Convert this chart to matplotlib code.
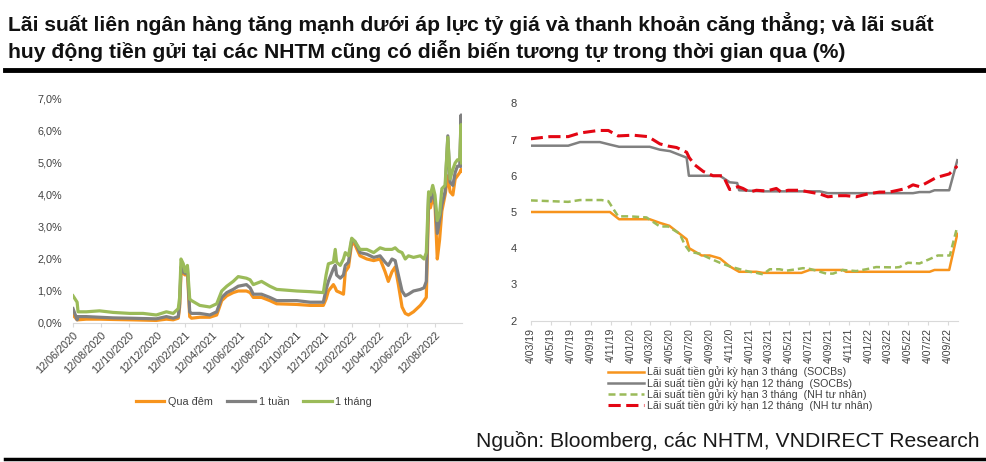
import matplotlib
matplotlib.use("Agg")
import matplotlib.pyplot as plt
import matplotlib.dates as mdates
import pandas as pd
import numpy as np

# ---------------- Left chart: interbank rates (%) ----------------
ib_dates = ["2020-06-12", "2020-06-21", "2020-06-23", "2020-07-11", "2020-08-09", "2020-09-08",
            "2020-10-14", "2020-11-12", "2020-12-11", "2021-01-02", "2021-01-17", "2021-01-28",
            "2021-01-31", "2021-02-03", "2021-02-08", "2021-02-12", "2021-02-17", "2021-02-22",
            "2021-02-26", "2021-03-16", "2021-04-07", "2021-04-22", "2021-05-03", "2021-05-14",
            "2021-05-28", "2021-06-08", "2021-06-26", "2021-07-04", "2021-07-11", "2021-07-29",
            "2021-08-16", "2021-08-31", "2021-10-14", "2021-11-12", "2021-12-11", "2021-12-17",
            "2021-12-22", "2022-01-02", "2022-01-06", "2022-01-09", "2022-01-17", "2022-01-24",
            "2022-01-28", "2022-02-04", "2022-02-11", "2022-02-18", "2022-03-01", "2022-03-16",
            "2022-03-31", "2022-04-14", "2022-04-25", "2022-05-02", "2022-05-10", "2022-05-17",
            "2022-05-24", "2022-06-01", "2022-06-08", "2022-06-15", "2022-06-26", "2022-07-11",
            "2022-07-19", "2022-07-24", "2022-07-29", "2022-08-02", "2022-08-07", "2022-08-12",
            "2022-08-17", "2022-08-22", "2022-08-27", "2022-09-03", "2022-09-09", "2022-09-14",
            "2022-09-20", "2022-09-25", "2022-09-30", "2022-10-05", "2022-10-08", "2022-10-09"]
overnight = [0.25, 0.10, 0.10, 0.12, 0.12, 0.11, 0.10, 0.09, 0.08, 0.12, 0.10, 0.15,
             0.50, 1.55, 1.55, 1.50, 1.60, 0.20, 0.15, 0.18, 0.18, 0.25, 0.70, 0.85,
             0.95, 1.00, 1.00, 0.95, 0.80, 0.80, 0.70, 0.60, 0.58, 0.55, 0.55, 0.75,
             1.00, 1.20, 1.10, 1.00, 0.95, 0.90, 1.60, 1.75, 2.50, 2.45, 2.10, 2.00,
             1.95, 2.00, 1.60, 1.30, 1.60, 1.75, 1.20, 0.50, 0.30, 0.25, 0.35, 0.55,
             0.70, 0.80, 3.70, 3.60, 3.90, 3.70, 2.00, 2.60, 3.50, 4.00, 4.60, 4.10,
             4.00, 4.50, 4.60, 4.70, 4.80, 4.75]
one_week = [0.45, 0.10, 0.20, 0.20, 0.18, 0.16, 0.15, 0.14, 0.13, 0.20, 0.15, 0.20,
            0.60, 1.75, 1.60, 1.55, 1.75, 0.35, 0.30, 0.30, 0.25, 0.35, 0.80, 0.95,
            1.05, 1.15, 1.20, 1.10, 0.90, 0.90, 0.80, 0.70, 0.70, 0.65, 0.65, 1.05,
            1.30, 1.70, 1.80, 1.50, 1.40, 1.50, 1.80, 1.90, 2.60, 2.55, 2.20, 2.15,
            2.05, 2.10, 1.90, 1.80, 2.00, 1.95, 1.50, 1.00, 0.85, 0.90, 1.00, 1.05,
            1.10, 1.30, 4.00, 3.80, 4.10, 3.80, 2.80, 3.20, 3.70, 4.10, 5.85, 4.40,
            4.30, 4.70, 4.90, 4.90, 6.50, 4.90]
one_month = [0.85, 0.65, 0.35, 0.35, 0.38, 0.33, 0.30, 0.30, 0.25, 0.35, 0.30, 0.45,
             0.80, 2.00, 1.85, 1.60, 1.80, 0.75, 0.70, 0.55, 0.50, 0.60, 1.00, 1.15,
             1.30, 1.45, 1.40, 1.35, 1.20, 1.30, 1.15, 1.05, 1.00, 0.98, 0.95, 1.50,
             1.85, 1.90, 2.30, 1.90, 1.80, 2.00, 2.20, 2.10, 2.65, 2.55, 2.30, 2.30,
             2.20, 2.35, 2.30, 2.30, 2.30, 2.35, 2.25, 2.20, 2.00, 2.10, 2.05, 2.10,
             2.00, 2.20, 4.10, 4.00, 4.30, 4.00, 3.20, 3.40, 4.20, 4.30, 5.80, 4.50,
             4.80, 5.00, 5.10, 5.10, 6.20, 5.00]
ib_ticks = ["2020-06-12", "2020-08-12", "2020-10-12", "2020-12-12", "2021-02-12", "2021-04-12",
            "2021-06-12", "2021-08-12", "2021-10-12", "2021-12-12", "2022-02-12", "2022-04-12",
            "2022-06-12", "2022-08-12"]
ib_names = ["Qua đêm", "1 tuần", "1 tháng"]

# ---------------- Right chart: deposit rates (%) ----------------
d_orange_dates = ["2019-03-04", "2019-11-02", "2019-11-30", "2020-03-03", "2020-04-03", "2020-05-02",
                  "2020-06-24", "2020-07-02", "2020-08-09", "2020-09-03", "2020-10-04", "2020-11-03",
                  "2020-12-02", "2021-01-24", "2021-02-13", "2021-06-11", "2021-07-06", "2021-10-16",
                  "2021-10-26", "2022-07-09", "2022-07-24", "2022-09-07", "2022-10-02"]
soc_3m = [5.0, 5.0, 4.8, 4.8, 4.7, 4.62, 4.25, 4.0, 3.8, 3.8, 3.72, 3.5,
          3.35, 3.35, 3.32, 3.32, 3.4, 3.4, 3.35, 3.35, 3.4, 3.4, 4.4]
d_grey_dates = ["2019-03-04", "2019-06-27", "2019-08-02", "2019-10-02", "2019-11-02", "2019-11-30",
                "2020-03-03", "2020-04-03", "2020-05-04", "2020-06-24", "2020-07-01", "2020-10-04",
                "2020-11-03", "2020-11-26", "2020-12-02", "2021-02-13", "2021-08-06", "2021-08-31",
                "2022-05-19", "2022-06-08", "2022-07-09", "2022-07-24", "2022-09-07", "2022-10-02"]
soc_12m = [6.83, 6.83, 6.93, 6.93, 6.86, 6.8, 6.8, 6.72, 6.68, 6.5, 6.0, 6.0,
           5.82, 5.8, 5.6, 5.57, 5.57, 5.52, 5.52, 5.55, 5.55, 5.6, 5.6, 6.43]
d_green_dates = ["2019-03-04", "2019-05-02", "2019-06-27", "2019-08-02", "2019-10-07", "2019-10-28",
                 "2019-11-27", "2020-01-02", "2020-02-22", "2020-04-03", "2020-04-28", "2020-06-03",
                 "2020-06-18", "2020-07-04", "2020-08-03", "2020-09-03", "2020-10-04", "2020-11-03",
                 "2020-12-04", "2021-01-03", "2021-01-24", "2021-02-13", "2021-03-06", "2021-04-05",
                 "2021-04-26", "2021-05-26", "2021-06-16", "2021-07-06", "2021-07-27", "2021-08-26",
                 "2021-09-16", "2021-10-16", "2021-11-26", "2021-12-27", "2022-01-26", "2022-03-28",
                 "2022-04-08", "2022-05-03", "2022-06-08", "2022-07-09", "2022-08-03", "2022-08-28",
                 "2022-09-09", "2022-09-29"]
priv_3m = [5.32, 5.3, 5.28, 5.33, 5.33, 5.3, 4.88, 4.88, 4.85, 4.6, 4.6, 4.4,
           4.1, 3.9, 3.85, 3.72, 3.6, 3.5, 3.42, 3.35, 3.32, 3.28, 3.42, 3.42,
           3.38, 3.42, 3.45, 3.43, 3.38, 3.3, 3.3, 3.4, 3.37, 3.42, 3.48, 3.47,
           3.48, 3.6, 3.58, 3.7, 3.8, 3.8, 3.8, 4.5]
d_red_dates = ["2019-03-04", "2019-05-02", "2019-06-27", "2019-08-02", "2019-09-27", "2019-10-28",
               "2019-11-27", "2020-01-12", "2020-02-27", "2020-04-03", "2020-04-28", "2020-05-24",
               "2020-06-24", "2020-07-02", "2020-07-19", "2020-08-14", "2020-09-13", "2020-10-14",
               "2020-11-03", "2020-11-29", "2020-12-14", "2021-01-03", "2021-01-24", "2021-02-24",
               "2021-03-26", "2021-04-10", "2021-05-01", "2021-06-06", "2021-07-06", "2021-08-06",
               "2021-08-31", "2021-10-06", "2021-10-26", "2021-11-26", "2022-01-01", "2022-02-05",
               "2022-03-08", "2022-04-03", "2022-04-28", "2022-05-19", "2022-06-08", "2022-07-03",
               "2022-07-29", "2022-09-07", "2022-10-02"]
priv_12m = [7.02, 7.08, 7.08, 7.18, 7.25, 7.25, 7.1, 7.12, 7.08, 6.88, 6.82, 6.78,
            6.65, 6.5, 6.3, 6.12, 6.0, 6.0, 5.62, 5.7, 5.65, 5.55, 5.6, 5.58,
            5.65, 5.55, 5.6, 5.6, 5.55, 5.5, 5.42, 5.45, 5.45, 5.42, 5.5, 5.55,
            5.55, 5.6, 5.65, 5.75, 5.7, 5.82, 5.95, 6.05, 6.27]
dep_ticks = ["2019-03-04", "2019-05-04", "2019-07-04", "2019-09-04", "2019-11-04", "2020-01-04",
             "2020-03-04", "2020-05-04", "2020-07-04", "2020-09-04", "2020-11-04", "2021-01-04",
             "2021-03-04", "2021-05-04", "2021-07-04", "2021-09-04", "2021-11-04", "2022-01-04",
             "2022-03-04", "2022-05-04", "2022-07-04", "2022-09-04"]
dep_names = ["Lãi suất tiền gửi kỳ hạn 3 tháng  (SOCBs)",
             "Lãi suất tiền gửi kỳ hạn 12 tháng  (SOCBs)",
             "Lãi suất tiền gửi kỳ hạn 3 tháng  (NH tư nhân)",
             "Lãi suất tiền gửi kỳ hạn 12 tháng  (NH tư nhân)"]

title = ("Lãi suất liên ngân hàng tăng mạnh dưới áp lực tỷ giá và thanh khoản căng thẳng; và lãi suất\n"
         "huy động tiền gửi tại các NHTM cũng có diễn biến tương tự trong thời gian qua (%)")
source = "Nguồn: Bloomberg, các NHTM, VNDIRECT Research"

ORANGE = "#F7941D"
GREY = "#808080"
GREEN = "#9BBB59"
RED = "#E30613"
TXT = "#404040"
AXC = "#D9D9D9"

plt.rcParams['font.family'] = ['Liberation Sans', 'DejaVu Sans']

W, H = 986, 462
fig = plt.figure(figsize=(W / 100, H / 100), dpi=100)

def rect(x0, y0, x1, y1):
    return [x0 / W, 1 - y1 / H, (x1 - x0) / W, (y1 - y0) / H]

# Title
fig.text(8 / W, 1 - 12 / H, title, fontsize=15.2, fontweight='bold', color='#111111',
         va='top', ha='left', linespacing=1.27)
fig.add_artist(plt.Line2D([5 / W, 1], [1 - 70 / H, 1 - 70 / H], color='black', lw=3.5))
fig.add_artist(plt.Line2D([5 / W, 1], [1 - 459 / H, 1 - 459 / H], color='black', lw=2.5))
fig.text(980 / W, 1 - 441 / H, source, fontsize=15.2, color='#1a1a1a', ha='right', va='center')

# ---------- Left axes ----------
ax1 = fig.add_axes(rect(73, 99, 462, 323))
x1 = pd.to_datetime(ib_dates)
for vals, col, name in zip([overnight, one_week, one_month], [ORANGE, GREY, GREEN], ib_names):
    ax1.plot(x1, vals, color=col, lw=2.3, label=name, solid_joinstyle='round')
ax1.set_ylim(0, 7)
ax1.set_yticks(range(0, 8))
ax1.set_yticklabels([f"{v},0%" for v in range(0, 8)])
ax1.set_xlim(pd.Timestamp("2020-06-12"), pd.Timestamp("2022-10-10"))
ax1.set_xticks(pd.to_datetime(ib_ticks))
ax1.xaxis.set_major_formatter(mdates.DateFormatter("%d/%m/%Y"))
for lab in ax1.get_xticklabels():
    lab.set_rotation(45)
    lab.set_ha('right')
    lab.set_rotation_mode('anchor')
for s in ['top', 'right', 'left']:
    ax1.spines[s].set_visible(False)
ax1.spines['bottom'].set_color(AXC)
ax1.tick_params(axis='y', length=0, labelsize=7.8, labelcolor=TXT, pad=8)
ax1.tick_params(axis='x', length=3, color=AXC, labelsize=7.8, labelcolor=TXT, pad=2)
ax1.patch.set_alpha(0)
h1, l1 = ax1.get_legend_handles_labels()
fig.legend(h1, l1, loc='center', bbox_to_anchor=(254 / W, 1 - 402 / H), ncol=3, frameon=False,
           fontsize=7.8, handlelength=2.6, columnspacing=1.3, handletextpad=0.35, labelcolor=TXT)

# ---------- Right axes ----------
ax2 = fig.add_axes(rect(530.7, 103.3, 958, 320.7))
ax2.plot(pd.to_datetime(d_orange_dates), soc_3m, color=ORANGE, lw=1.8, label=dep_names[0])
ax2.plot(pd.to_datetime(d_grey_dates), soc_12m, color=GREY, lw=1.8, label=dep_names[1])
ax2.plot(pd.to_datetime(d_green_dates), priv_3m, color=GREEN, lw=1.8, ls=(0, (2.8, 1.6)), label=dep_names[2])
ax2.plot(pd.to_datetime(d_red_dates), priv_12m, color=RED, lw=2.2, ls=(0, (4, 1.8)), label=dep_names[3])
ax2.set_ylim(2, 8)
ax2.set_yticks(range(2, 9))
ax2.set_xlim(pd.Timestamp("2019-03-04"), pd.Timestamp("2022-10-04"))
ax2.set_xticks(pd.to_datetime(dep_ticks))
ax2.set_xticklabels([f"{d.day}/{d.month:02d}/{d.year % 100:02d}" for d in pd.to_datetime(dep_ticks)],
                    rotation=90)
for s in ['top', 'right', 'left']:
    ax2.spines[s].set_visible(False)
ax2.spines['bottom'].set_color(AXC)
ax2.tick_params(axis='y', length=0, labelsize=8, labelcolor=TXT, pad=10)
ax2.tick_params(axis='x', length=3, color=AXC, labelsize=7.6, labelcolor=TXT, pad=2)
ax2.patch.set_alpha(0)
h2, l2 = ax2.get_legend_handles_labels()
fig.legend(h2, l2, loc='upper left', bbox_to_anchor=(603 / W, 1 - 361 / H), ncol=1, frameon=False,
           fontsize=7.7, handlelength=3.3, handletextpad=0.35, labelspacing=0.02, labelcolor=TXT,
           borderpad=0)

fig.savefig("out.png", dpi=100)
